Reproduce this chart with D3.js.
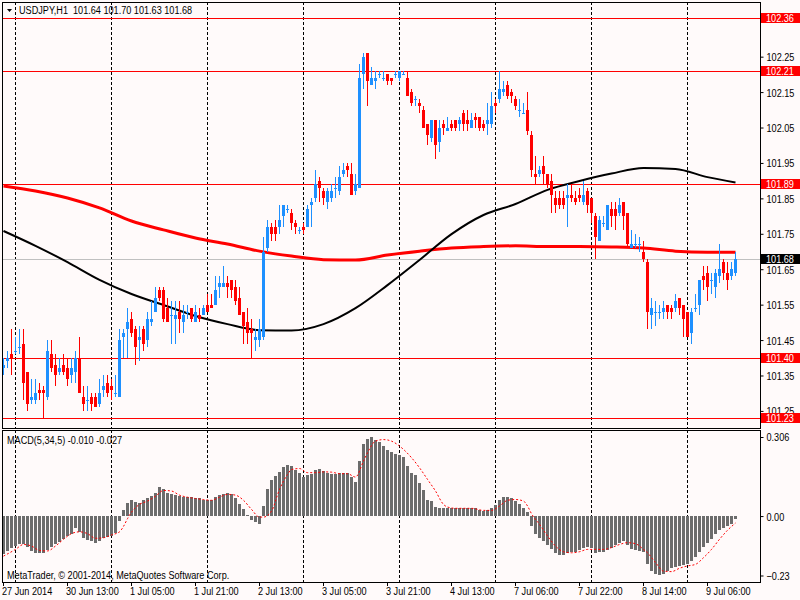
<!DOCTYPE html>
<html><head><meta charset="utf-8">
<script src="https://cdn.jsdelivr.net/npm/d3@7"></script>
<style>
html,body{margin:0;padding:0;background:#FFFAFA;}
svg{display:block;}
text{font-family:"Liberation Sans",Arial,sans-serif;font-size:11px;fill:#000;}
</style>
</head><body>
<svg id="chart" width="800" height="600"></svg>
<script>
// ---------- DATA ----------
const opens = [
101.37,101.39,101.41,101.42,101.43,101.44,101.36,101.28,101.28,101.31,
101.31,101.29,101.41,101.38,101.36,101.38,101.37,101.35,101.36,101.40,
101.29,101.28,101.29,101.29,101.27,101.31,101.33,101.32,101.30,101.29,
101.46,101.48,101.51,101.48,101.45,101.48,101.45,101.50,101.53,101.59,
101.59,101.54,101.52,101.51,101.53,101.50,101.53,101.54,101.50,101.52,
101.52,101.55,101.55,101.55,101.60,101.60,101.61,101.62,101.60,101.57,
101.53,101.50,101.48,101.45,101.45,101.46,101.71,101.77,101.77,101.77,
101.80,101.82,101.81,101.78,101.76,101.77,101.77,101.83,101.85,101.90,
101.87,101.84,101.85,101.88,101.87,101.92,101.94,101.92,101.87,101.88,
102.20,102.26,102.17,102.18,102.20,102.19,102.20,102.19,102.20,102.19,
102.20,102.19,102.15,102.13,102.12,102.10,102.06,102.02,102.07,102.01,
102.06,102.04,102.06,102.07,102.06,102.09,102.07,102.05,102.08,102.08,
102.06,102.06,102.06,102.12,102.13,102.15,102.17,102.15,102.13,102.10,
102.09,102.10,102.03,101.92,101.92,101.94,101.92,101.90,101.85,101.85,
101.85,101.85,101.86,101.85,101.86,101.84,101.87,101.85,101.80,101.73,
101.78,101.76,101.82,101.82,101.81,101.84,101.81,101.71,101.72,101.72,
101.70,101.67,101.52,101.53,101.53,101.53,101.55,101.54,101.54,101.57,
101.55,101.53,101.47,101.54,101.55,101.63,101.64,101.62,101.60,101.63,
101.67,101.64,101.63,101.64];
const highs = [
101.40,101.42,101.48,101.46,101.48,101.48,101.36,101.34,101.34,101.33,
101.32,101.45,101.45,101.41,101.40,101.41,101.40,101.40,101.42,101.46,
101.32,101.32,101.30,101.30,101.34,101.35,101.35,101.34,101.35,101.48,
101.48,101.54,101.53,101.49,101.49,101.49,101.53,101.56,101.60,101.60,
101.60,101.57,101.56,101.56,101.56,101.55,101.55,101.54,101.55,101.54,
101.55,101.58,101.58,101.63,101.63,101.66,101.63,101.62,101.62,101.60,
101.53,101.54,101.51,101.48,101.51,101.74,101.79,101.78,101.79,101.83,
101.83,101.83,101.82,101.79,101.77,101.78,101.83,101.85,101.93,101.91,
101.88,101.88,101.89,101.91,101.94,101.95,101.95,101.95,101.92,102.23,
102.26,102.26,102.22,102.21,102.21,102.21,102.20,102.19,102.21,102.21,
102.21,102.21,102.16,102.14,102.13,102.11,102.06,102.07,102.07,102.07,
102.07,102.08,102.07,102.07,102.08,102.10,102.10,102.09,102.09,102.08,
102.07,102.12,102.15,102.13,102.21,102.18,102.18,102.16,102.14,102.13,
102.12,102.15,102.04,101.97,101.94,101.97,101.92,101.92,101.87,101.87,
101.87,101.89,101.89,101.87,101.88,101.90,101.88,101.85,101.81,101.80,
101.80,101.83,101.84,101.84,101.85,101.84,101.81,101.76,101.75,101.74,
101.73,101.68,101.57,101.56,101.55,101.56,101.55,101.55,101.58,101.57,
101.55,101.53,101.54,101.58,101.62,101.66,101.66,101.64,101.65,101.72,
101.68,101.67,101.67,101.70];
const lows = [
101.35,101.37,101.35,101.41,101.41,101.28,101.25,101.27,101.27,101.28,
101.23,101.28,101.36,101.32,101.35,101.35,101.32,101.33,101.33,101.30,
101.25,101.25,101.25,101.26,101.26,101.29,101.29,101.28,101.29,101.29,
101.40,101.40,101.46,101.38,101.39,101.42,101.43,101.49,101.53,101.56,
101.50,101.50,101.44,101.44,101.47,101.47,101.51,101.50,101.50,101.50,
101.52,101.53,101.54,101.55,101.57,101.60,101.57,101.57,101.55,101.52,
101.44,101.44,101.40,101.42,101.43,101.45,101.70,101.73,101.73,101.75,
101.77,101.81,101.76,101.75,101.75,101.75,101.77,101.77,101.84,101.84,
101.83,101.82,101.84,101.85,101.86,101.91,101.91,101.86,101.86,101.88,
102.16,102.11,102.17,102.16,102.19,102.18,102.17,102.17,102.19,102.18,
102.20,102.14,102.11,102.11,102.09,102.05,102.00,102.01,101.96,101.98,
102.03,102.04,102.04,102.04,102.04,102.04,102.04,102.05,102.05,102.04,
102.04,102.03,102.05,102.09,102.12,102.14,102.13,102.12,102.10,102.08,
102.09,102.03,101.91,101.89,101.91,101.89,101.88,101.81,101.81,101.82,
101.82,101.77,101.84,101.83,101.84,101.83,101.81,101.78,101.68,101.73,
101.77,101.76,101.77,101.76,101.80,101.76,101.71,101.71,101.71,101.70,
101.67,101.48,101.48,101.49,101.51,101.51,101.51,101.51,101.53,101.52,
101.46,101.46,101.44,101.53,101.52,101.59,101.56,101.58,101.57,101.61,
101.62,101.59,101.62,101.63];
const closes = [
101.38,101.40,101.40,101.42,101.43,101.33,101.27,101.29,101.30,101.30,
101.30,101.42,101.37,101.35,101.37,101.36,101.34,101.37,101.40,101.30,
101.27,101.28,101.27,101.26,101.30,101.32,101.30,101.31,101.30,101.45,
101.47,101.50,101.47,101.43,101.46,101.44,101.51,101.51,101.57,101.57,
101.51,101.50,101.52,101.52,101.51,101.52,101.53,101.51,101.53,101.51,
101.54,101.53,101.54,101.59,101.61,101.61,101.60,101.59,101.56,101.52,
101.49,101.47,101.47,101.46,101.48,101.70,101.77,101.75,101.75,101.79,
101.83,101.82,101.78,101.77,101.76,101.76,101.82,101.84,101.89,101.88,
101.85,101.87,101.87,101.88,101.91,101.93,101.93,101.86,101.89,102.19,
102.25,102.18,102.19,102.19,102.20,102.19,102.18,102.18,102.20,102.21,
102.20,102.14,102.12,102.13,102.11,102.05,102.03,102.07,102.00,102.05,
102.05,102.05,102.05,102.05,102.07,102.06,102.06,102.07,102.07,102.05,
102.05,102.07,102.11,102.11,102.16,102.16,102.14,102.14,102.11,102.10,
102.09,102.04,101.93,101.91,101.93,101.92,101.89,101.86,101.83,101.83,
101.83,101.86,101.85,101.84,101.85,101.86,101.83,101.81,101.74,101.79,
101.78,101.83,101.80,101.80,101.83,101.80,101.72,101.72,101.72,101.72,
101.68,101.53,101.54,101.53,101.53,101.54,101.53,101.53,101.56,101.54,
101.51,101.46,101.53,101.54,101.62,101.62,101.60,101.62,101.64,101.65,
101.64,101.62,101.65,101.68];

// moving averages read at every 8th bar
const maBars = [0,8,16,24,32,40,48,56,64,72,80,88,96,104,112,120,128,136,144,152,160,168,176,183];
const maFast = [101.758,101.716,101.670,101.620,101.580,101.549,101.518,101.495,101.478,101.477,101.495,101.540,
                101.605,101.676,101.749,101.803,101.834,101.874,101.899,101.920,101.936,101.933,101.910,101.895];
const maSlow = [101.885,101.871,101.851,101.823,101.786,101.761,101.738,101.721,101.701,101.687,101.677,101.676,
                101.690,101.701,101.710,101.714,101.716,101.714,101.714,101.713,101.710,101.701,101.698,101.698];

// MACD(5,34,5) histogram, one per bar
const macdHist = [
-0.146,-0.135,-0.125,-0.116,-0.107,-0.107,-0.120,-0.135,-0.143,-0.143,
-0.142,-0.133,-0.120,-0.110,-0.099,-0.090,-0.077,-0.068,-0.045,-0.061,
-0.084,-0.094,-0.097,-0.104,-0.097,-0.086,-0.081,-0.077,-0.064,-0.019,
0.022,0.052,0.061,0.055,0.052,0.061,0.068,0.077,0.090,0.112,
0.103,0.090,0.086,0.081,0.077,0.075,0.073,0.073,0.071,0.068,
0.064,0.061,0.064,0.073,0.081,0.086,0.090,0.084,0.071,0.048,
0.026,0.006,-0.017,-0.022,-0.030,0.039,0.103,0.138,0.155,0.171,
0.189,0.197,0.193,0.180,0.168,0.151,0.159,0.164,0.180,0.184,
0.174,0.168,0.164,0.164,0.168,0.168,0.168,0.151,0.133,0.215,
0.280,0.300,0.306,0.296,0.287,0.271,0.255,0.249,0.241,0.236,
0.228,0.193,0.168,0.159,0.129,0.099,0.064,0.058,0.035,0.032,
0.032,0.030,0.030,0.030,0.030,0.030,0.030,0.030,0.030,0.022,
0.019,0.022,0.030,0.043,0.061,0.073,0.073,0.068,0.058,0.048,
0.032,0.017,-0.039,-0.071,-0.084,-0.097,-0.112,-0.129,-0.142,-0.151,
-0.151,-0.142,-0.139,-0.138,-0.133,-0.125,-0.120,-0.122,-0.142,-0.139,
-0.138,-0.133,-0.122,-0.112,-0.103,-0.097,-0.112,-0.129,-0.133,-0.135,
-0.138,-0.187,-0.213,-0.226,-0.228,-0.223,-0.213,-0.202,-0.197,-0.193,
-0.189,-0.184,-0.174,-0.159,-0.138,-0.120,-0.103,-0.087,-0.071,-0.055,
-0.045,-0.039,-0.030,-0.010];

// MACD signal line, read at these bars
const sigBars = [0,3,5,7,9,11,13,15,17,19,21,23,25,27,29,30,31,32,34,36,
                 38,40,42,44,46,48,50,52,54,56,58,60,62,64,65,67,69,71,72,74,
                 76,78,80,82,84,86,88,90,91,93,95,97,99,100,102,104,106,108,110,111,
                 113,117,120,122,124,126,128,130,131,132,134,136,138,140,142,144,146,148,150,152,
                 154,156,158,160,161,163,165,167,169,171,173,175,177,179,181,183];
const sigVals = [-0.155,-0.129,-0.110,-0.116,-0.133,-0.135,-0.116,-0.090,-0.068,-0.061,
                 -0.068,-0.086,-0.084,-0.073,-0.061,-0.040,-0.010,0.015,0.045,0.058,
                 0.077,0.099,0.097,0.081,0.073,0.068,0.064,0.061,0.073,0.084,
                 0.081,0.061,0.026,-0.004,-0.004,0.019,0.103,0.161,0.180,0.184,
                 0.168,0.168,0.171,0.170,0.164,0.164,0.151,0.213,0.245,0.290,
                 0.296,0.290,0.271,0.258,0.226,0.187,0.142,0.097,0.045,0.035,
                 0.030,0.030,0.022,0.022,0.039,0.061,0.064,0.058,0.039,0.009,
                 -0.032,-0.077,-0.116,-0.138,-0.142,-0.138,-0.129,-0.129,-0.129,-0.122,
                 -0.110,-0.103,-0.107,-0.129,-0.142,-0.180,-0.213,-0.215,-0.202,-0.193,
                 -0.187,-0.161,-0.129,-0.090,-0.055,-0.027];

const priceTicks = [101.25,101.35,101.45,101.55,101.65,101.75,101.85,101.95,102.05,102.15,102.25];
const levelLines = [102.36,102.21,101.89,101.40,101.23];
const lastPrice = 101.68;
const macdTicks = [0.306,0.00,-0.23];
const timeLabels = ["27 Jun 2014","30 Jun 13:00","1 Jul 05:00","1 Jul 21:00","2 Jul 13:00","3 Jul 05:00",
                    "3 Jul 21:00","4 Jul 13:00","7 Jul 06:00","7 Jul 22:00","8 Jul 14:00","9 Jul 06:00"];
const timeLabelBars = [0,16,32,48,64,80,96,112,128,144,160,176];
const dayBars = [3,27,51,75,99,123,147,171];
const titleText = "USDJPY,H1  101.64 101.70 101.63 101.68";
const macdText = "MACD(5,34,5) -0.010 -0.027";
const copyText = "MetaTrader, \u00A9 2001-2014, MetaQuotes Software Corp.";

// ---------- LAYOUT ----------
const N = closes.length;
const L = 2, R = 760, mainTop = 2, mainBot = 428, macdTop = 430, macdBot = 582;
const BULL = "#1E90FF", BEAR = "#FF0000";
const SQ = 0.83; // horizontal squeeze to mimic the narrow terminal font
const svg = d3.select("#chart");
const x = d3.scaleLinear().domain([0, N-1]).range([3.5, 3.5 + 4*(N-1)]);
const y = d3.scaleLinear().domain([101.23, 102.36]).range([418, 17.7]);
const ym = d3.scaleLinear().domain([-0.23, 0.306]).range([575.5, 437]);
const px = v => Math.round(v) + 0.5;
function squeeze(sel){
  sel.each(function(){
    const x0 = +(this.getAttribute("x") || 0);
    this.setAttribute("transform", `translate(${x0},0) scale(${SQ},1) translate(${-x0},0)`);
  });
}

svg.append("rect").attr("width",800).attr("height",600).attr("fill","#FFFAFA");

// day grid lines (both panels)
const grid = svg.append("g").attr("stroke","#000").attr("stroke-width",1).attr("stroke-dasharray","3,2").attr("shape-rendering","crispEdges");
[[mainTop,mainBot],[macdTop,macdBot]].forEach(([a,b]) => {
  grid.selectAll(null).data(dayBars).join("line")
    .attr("x1",d=>px(x(d)-0.5)).attr("x2",d=>px(x(d)-0.5)).attr("y1",a).attr("y2",b);
});

// horizontal levels
const lv = svg.append("g").attr("shape-rendering","crispEdges");
lv.append("line").attr("x1",L).attr("x2",R).attr("y1",px(y(lastPrice))).attr("y2",px(y(lastPrice))).attr("stroke","#C0C0C0");
lv.selectAll(null).data(levelLines).join("line")
  .attr("x1",L).attr("x2",R).attr("y1",d=>px(y(d))).attr("y2",d=>px(y(d))).attr("stroke","#FF0000");

// moving averages
const maLine = arr => d3.line().curve(d3.curveMonotoneX).x((d,i)=>x(maBars[i])).y(d=>y(d))(arr);
svg.append("path").attr("d",maLine(maSlow)).attr("fill","none").attr("stroke","#FF0000").attr("stroke-width",3);
svg.append("path").attr("d",maLine(maFast)).attr("fill","none").attr("stroke","#000").attr("stroke-width",2);

// candles
const idx = d3.range(N);
const cg = svg.append("g").attr("shape-rendering","crispEdges");
cg.selectAll("line.w").data(idx).join("line").attr("class","w")
  .attr("x1",i=>x(i)).attr("x2",i=>x(i))
  .attr("y1",i=>y(highs[i])).attr("y2",i=>y(lows[i]))
  .attr("stroke",i=>closes[i]>=opens[i]?BULL:BEAR);
cg.selectAll("rect.b").data(idx).join("rect").attr("class","b")
  .attr("x",i=>x(i)-1.5).attr("width",3)
  .attr("y",i=>y(Math.max(opens[i],closes[i])))
  .attr("height",i=>Math.max(1, Math.abs(y(opens[i])-y(closes[i]))))
  .attr("fill",i=>closes[i]>=opens[i]?BULL:BEAR);

// MACD histogram
const mg = svg.append("g").attr("shape-rendering","crispEdges").attr("fill","#6C6C6C");
mg.selectAll("rect").data(idx).join("rect")
  .attr("x",i=>x(i)-1.5).attr("width",3)
  .attr("y",i=>Math.min(ym(0),ym(macdHist[i])))
  .attr("height",i=>Math.max(1,Math.abs(ym(macdHist[i])-ym(0))));
// signal
svg.append("path")
  .attr("d", d3.line().curve(d3.curveMonotoneX).x((d,i)=>x(sigBars[i])).y(d=>ym(d))(sigVals))
  .attr("fill","none").attr("stroke","#FF0000").attr("stroke-width",1).attr("stroke-dasharray","2,2");

// panel borders
const bd = svg.append("g").attr("stroke","#000").attr("shape-rendering","crispEdges");
bd.append("rect").attr("x",L+0.5).attr("y",mainTop+0.5).attr("width",R-L).attr("height",mainBot-mainTop).attr("fill","none");
bd.append("rect").attr("x",L+0.5).attr("y",macdTop+0.5).attr("width",R-L).attr("height",macdBot-macdTop).attr("fill","none");

// price axis
const yAxis = d3.axisRight(y).tickValues(priceTicks).tickSize(3).tickPadding(3).tickFormat(d3.format(".2f"));
const ya = svg.append("g").attr("transform",`translate(${R+0.5},0)`).call(yAxis);
ya.select(".domain").remove();
ya.selectAll("text").attr("font-size",null).attr("font-family",null).attr("dy","0.36em").call(squeeze);
ya.selectAll("line").attr("stroke","#000");

// level labels
const boxes = levelLines.map(v=>({v,bg:"#FF0000"})).concat([{v:lastPrice,bg:"#000"}]);
const lb = svg.append("g").selectAll("g").data(boxes).join("g")
  .attr("transform",d=>`translate(${R+1},${Math.round(y(d.v))})`);
lb.append("rect").attr("x",0).attr("y",-5).attr("width",39).attr("height",10).attr("fill",d=>d.bg);
lb.append("text").attr("x",5).attr("y",0).attr("dy","0.36em").style("fill","#fff").text(d=>d3.format(".2f")(d.v)).call(squeeze);

// MACD axis
const mAxis = d3.axisRight(ym).tickValues(macdTicks).tickSize(3).tickPadding(3)
  .tickFormat(d => d===0.306 ? "0.306" : d3.format(".2f")(d));
const mAx = svg.append("g").attr("transform",`translate(${R+0.5},0)`).call(mAxis);
mAx.select(".domain").remove();
mAx.selectAll("text").attr("font-size",null).attr("font-family",null).attr("dy","0.36em").call(squeeze);
mAx.selectAll("line").attr("stroke","#000");

// time axis
const tg = svg.append("g").selectAll("g").data(timeLabelBars).join("g")
  .attr("transform",d=>`translate(${Math.round(x(d)-0.5)},${macdBot})`);
tg.append("line").attr("x1",0.5).attr("x2",0.5).attr("y1",1).attr("y2",4).attr("stroke","#000").attr("shape-rendering","crispEdges");
tg.append("text").attr("x",-1).attr("y",13).text((d,i)=>timeLabels[i]).call(squeeze);

// titles
svg.append("path").attr("d","M7,9L12,9L9.5,12Z").attr("fill","#000");
svg.append("text").attr("x",19).attr("y",14).attr("xml:space","preserve").style("white-space","pre").text(titleText).call(squeeze);
svg.append("text").attr("x",7).attr("y",444).text(macdText).call(squeeze);
svg.append("text").attr("x",7).attr("y",579).text(copyText).call(squeeze);
</script>
</body></html>
